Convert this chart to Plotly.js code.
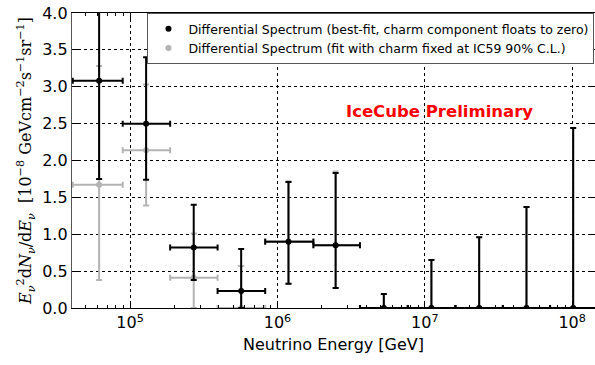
<!DOCTYPE html>
<html>
<head>
<meta charset="utf-8">
<script src="https://cdn.plot.ly/plotly-3.0.1.min.js"></script>
<style>html,body{margin:0;padding:0;background:#fff;}#chart{width:595px;height:365px;}</style>
</head>
<body>
<div id="chart"></div>
<script>
// Bin centres, lower and upper bin edges (GeV)
var energy   = [61660, 128500, 270400, 567500, 1188500, 2483000, 5272000, 11090000, 23390000, 48980000, 101600000];
var binLow   = [40830, 89130, 187100, 392600, 826000, 1754000, 3631000, 7674000, 16140000, 33880000, 70790000];
var binHigh  = [89130, 187100, 392600, 826000, 1754000, 3631000, 7674000, 16140000, 33880000, 70790000, 147900000];

// Best-fit (charm floats to zero): value, lower and upper error limits
var bestVal  = [3.08, 2.50, 0.82, 0.23, 0.90, 0.85, 0, 0, 0, 0, 0];
var bestLow  = [1.75, 1.74, 0.38, 0.00, 0.33, 0.27, 0, 0, 0, 0, 0];
var bestHigh = [4.50, 3.40, 1.40, 0.80, 1.71, 1.83, 0.19, 0.65, 0.96, 1.37, 2.44];

// Charm fixed at IC59 90% C.L.
var charmVal  = [1.67, 2.14, 0.41, 0.00, 0.905, 0.85, 0, 0, 0, 0, 0];
var charmLow  = [0.38, 1.39, 0.00, 0.00, 0.33, 0.27, 0, 0, 0, 0, 0];
var charmHigh = [3.28, 3.03, 1.01, 0.57, 1.72, 1.85, 0.19, 0.65, 0.96, 1.37, 2.44];

var yTicks = [0, 0.5, 1.0, 1.5, 2.0, 2.5, 3.0, 3.5, 4.0];
var xTicks = [1e5, 1e6, 1e7, 1e8];
var xTickText = ['10<sup>5</sup>', '10<sup>6</sup>', '10<sup>7</sup>', '10<sup>8</sup>'];
var minorDecades = [1e4, 1e5, 1e6, 1e7, 1e8];
var minorDigits = [2, 3, 4, 5, 6, 7, 8, 9];

var legendBest = 'Differential Spectrum (best-fit, charm component floats to zero)';
var legendCharm = 'Differential Spectrum (fit with charm fixed at IC59 90% C.L.)';

function diff(a, b) { return a.map(function (v, i) { return v - b[i]; }); }

var minorVals = [];
minorDecades.forEach(function (d) { minorDigits.forEach(function (m) { minorVals.push(d * m); }); });

function series(vals, lo, hi, name, color) {
  return {
    type: 'scatter', mode: 'markers', name: name,
    x: energy, y: vals,
    marker: {color: color, size: 6},
    error_y: {type: 'data', symmetric: false, array: diff(hi, vals), arrayminus: diff(vals, lo),
              color: color, thickness: 2, width: 3},
    error_x: {type: 'data', symmetric: false, array: diff(binHigh, energy), arrayminus: diff(energy, binLow),
              color: color, thickness: 2, width: 3}
  };
}

var traces = [
  series(charmVal, charmLow, charmHigh, legendCharm, '#b3b3b3'),
  series(bestVal, bestLow, bestHigh, legendBest, '#000000')
];

var layout = {
  width: 595, height: 365,
  margin: {l: 72, r: 0, t: 13, b: 57},
  paper_bgcolor: '#fff', plot_bgcolor: '#fff',
  font: {family: 'DejaVu Sans', color: '#000'},
  showlegend: true,
  legend: {x: 0.999, y: 1, xanchor: 'right', yanchor: 'top', traceorder: 'reversed',
           bgcolor: '#fff', bordercolor: '#555', borderwidth: 1,
           font: {size: 12.5, family: 'DejaVu Sans'}, itemwidth: 30, tracegroupgap: 0},
  xaxis: {
    type: 'log', range: [4.606, 8.155],
    tickvals: xTicks, ticktext: xTickText,
    tickfont: {size: 16}, ticks: 'inside', ticklen: 7, tickcolor: '#000',
    showline: true, linecolor: '#000', linewidth: 1.2, mirror: 'ticks',
    showgrid: true, gridcolor: '#000', griddash: 'dot', gridwidth: 1,
    minor: {tickvals: minorVals, ticks: 'inside', ticklen: 3, tickcolor: '#000', showgrid: false},
    zeroline: false,
    title: {text: 'Neutrino Energy [GeV]', font: {size: 16}, standoff: 7}
  },
  yaxis: {
    range: [0, 4.0], tickvals: yTicks, tickformat: '.1f',
    tickfont: {size: 16}, ticks: 'inside', ticklen: 7, tickcolor: '#000',
    showline: true, linecolor: '#555', linewidth: 1.2, mirror: 'ticks',
    showgrid: true, gridcolor: '#000', griddash: 'dot', gridwidth: 1,
    zeroline: false,
    title: {text: '<i>E</i><sub><i>ν</i></sub><sup>2</sup>d<i>N</i><sub><i>ν</i></sub>/d<i>E</i><sub><i>ν</i></sub>  [10<sup>−8</sup> GeVcm<sup>−2</sup>s<sup>−1</sup>sr<sup>−1</sup>]',
            font: {size: 16, family: 'DejaVu Serif'}, standoff: 6}
  },
  annotations: [{
    xref: 'paper', yref: 'paper', x: 0.703, y: 0.665, xanchor: 'center', yanchor: 'middle',
    text: '<b>IceCube Preliminary</b>', showarrow: false,
    font: {size: 16.5, color: '#ff0000', family: 'DejaVu Sans'}
  }]
};

Plotly.newPlot('chart', traces, layout, {displayModeBar: false, staticPlot: true});
</script>
</body>
</html>
